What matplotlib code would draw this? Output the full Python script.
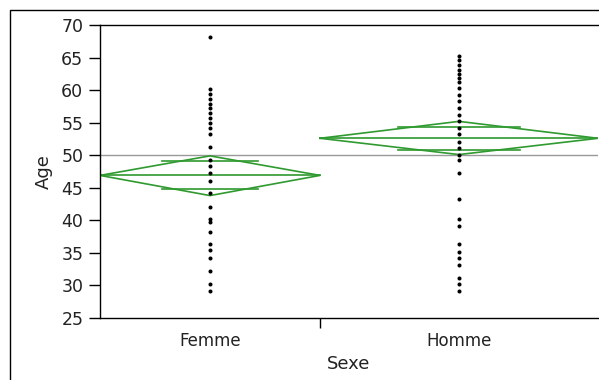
import numpy as np
import matplotlib
matplotlib.use("Agg")
import matplotlib.pyplot as plt
from matplotlib.patches import Rectangle

# data
categories = ["Femme", "Homme"]
age_femme = [68.2, 60.2, 59.4, 58.7, 57.9, 57.2, 56.5, 55.7, 54.9, 54.2, 53.2,
             51.3, 49.2, 48.3, 47.2, 46.1, 44.2, 42.1, 40.2, 39.7, 38.2, 36.3,
             35.5, 34.2, 32.2, 30.2, 29.2]
age_homme = [65.3, 64.6, 63.9, 63.1, 62.4, 61.9, 61.2, 60.3, 59.3, 58.3, 57.3,
             56.2, 55.2, 54.2, 53.2, 52.1, 51.1, 50.1, 49.2, 47.2, 43.2, 40.2,
             39.2, 36.3, 35.1, 34.2, 33.2, 31.1, 30.2, 29.2]
means = [46.9, 52.6]
ci_low = [43.8, 50.1]
ci_high = [49.9, 55.2]
grand_mean = 50.0
y_ticks = [25, 30, 35, 40, 45, 50, 55, 60, 65, 70]

# layout: category widths (JMP draws them proportional to group size)
widths = [220, 278]
green = "#2f9a2f"
txt = "#222222"

def run_main():
    fig = plt.figure(figsize=(5.99, 3.80), dpi=100)
    ax = fig.add_axes([100 / 599, 1 - 318 / 380, 498 / 599, 293 / 380])

    # outer frame of the report
    fig.patches.append(Rectangle((10 / 599, -0.2), 1.2, 1 - 10 / 380 + 0.2,
                                 transform=fig.transFigure, fill=False,
                                 edgecolor="black", lw=1.0))

    edges = np.concatenate([[0], np.cumsum(widths)])
    centers = (edges[:-1] + edges[1:]) / 2

    ax.axhline(grand_mean, color="#999999", lw=1.0, zorder=1)

    for i, ages in enumerate([age_femme, age_homme]):
        x0, x1, xc = edges[i], edges[i + 1], centers[i]
        m, lo, hi = means[i], ci_low[i], ci_high[i]
        # diamond
        ax.plot([x0, xc, x1, xc, x0], [m, hi, m, lo, m], color=green, lw=1.2, zorder=2)
        ax.plot([x0, x1], [m, m], color=green, lw=1.2, zorder=2)
        # overlap marks
        d = (hi - lo) / 2 / np.sqrt(2)
        half = widths[i] * 0.22
        for yy in (m + d, m - d):
            ax.plot([xc - half, xc + half], [yy, yy], color=green, lw=1.2, zorder=2)
        ax.plot(np.full(len(ages), xc), ages, "o", color="black", ms=2.9, mew=0,
                zorder=3)

    ax.set_xlim(edges[0], edges[-1])
    ax.set_ylim(25, 70)
    ax.set_yticks(y_ticks)
    ax.set_xticks(centers)
    ax.set_xticklabels(categories)
    ax.set_xticks(edges[1:-1], minor=True)
    ax.tick_params(axis="x", which="major", length=0, pad=10, labelsize=12,
                   labelcolor=txt)
    ax.tick_params(axis="x", which="minor", length=7, width=1)
    ax.tick_params(axis="y", length=8, width=1, labelsize=12.5, pad=4,
                   labelcolor=txt)
    ax.spines["right"].set_visible(False)
    for s in ["left", "bottom", "top"]:
        ax.spines[s].set_linewidth(1.0)
    ax.set_xlabel("Sexe", fontsize=13, labelpad=4, color=txt)
    ax.set_ylabel("Age", fontsize=13, labelpad=6, color=txt)

    fig.savefig("out.png", dpi=100)

if __name__ == '__main__':
    run_main()
